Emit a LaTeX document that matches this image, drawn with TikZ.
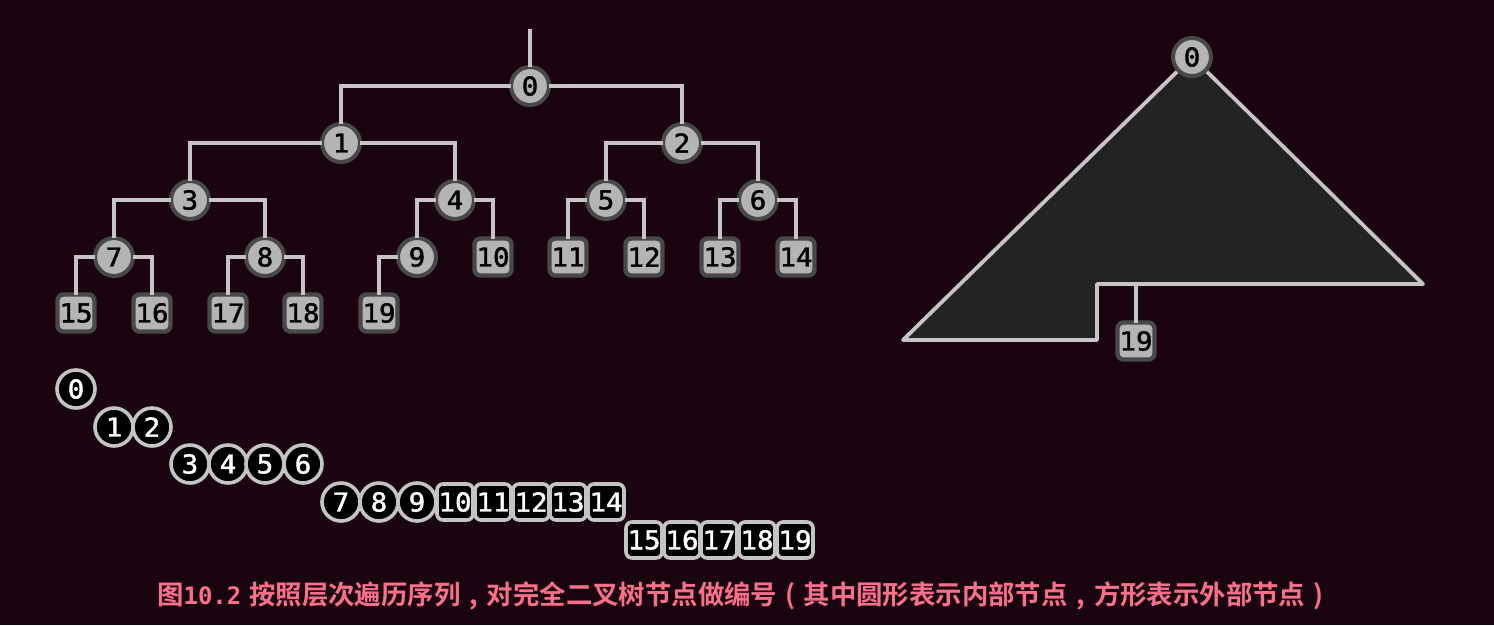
\documentclass[tikz,border=0pt]{standalone}
\usepackage{fontspec}
\newfontfamily\numf{DejaVu Sans Mono}[FakeBold=1.6,FakeStretch=1.06]
\newfontfamily\capcjk{Noto Sans CJK SC}[BoldFont={* Bold}]
\newfontfamily\capmono{DejaVu Sans Mono}[BoldFont={* Bold}]
\definecolor{bgc}{HTML}{1A0410}
\definecolor{edgec}{HTML}{C8C3C6}
\definecolor{capc}{HTML}{F9708A}
\definecolor{ringd}{HTML}{484848}
\definecolor{fillg}{HTML}{B4B4B4}
\definecolor{ringl}{HTML}{C4C4C4}
\definecolor{trifill}{HTML}{232323}
\tikzset{
  x=1pt,y=-1pt,
  numfont/.style={font=\numf\fontsize{26}{26}\selectfont,inner sep=0pt,outer sep=0pt},
  inttree/.style={numfont,circle,minimum size=38pt,draw=ringd,line width=4pt,fill=fillg,text=black},
  exttree/.style={numfont,rectangle,rounded corners=6pt,minimum size=37pt,draw=ringd,line width=4.4pt,fill=fillg,text=black},
  intseq/.style={numfont,circle,minimum size=38pt,draw=ringl,line width=3.6pt,fill=black,text=white},
  extseq/.style={numfont,rectangle,rounded corners=6pt,minimum size=36pt,draw=ringl,line width=3.6pt,fill=black,text=white},
  link/.style={draw=edgec,line width=3.8pt},
  tri/.style={draw=edgec,line width=3.8pt,fill=trifill,line join=round},
  caption/.style={font=\capcjk\bfseries\fontsize{26.4}{26.4}\selectfont,text=capc,inner sep=0pt},
}
\newcommand{\cmm}{\hbox to 1em{\hss,\hss}}
\newcommand{\lpr}{\hbox to 1em{\hss(\hss}}
\newcommand{\rpr}{\hbox to 1em{\hss)\hss}}
\begin{document}
\begin{tikzpicture}
\fill[bgc] (0,0) rectangle (1494,625);
\useasboundingbox (0,0) rectangle (1494,625);
% tree
\coordinate (root) at (530,29);
\node[inttree] (t0) at (530,86) {0};
\node[inttree] (t1) at (341,143) {1};
\node[inttree] (t2) at (682,143) {2};
\node[inttree] (t3) at (190,200) {3};
\node[inttree] (t4) at (455,200) {4};
\node[inttree] (t5) at (606,200) {5};
\node[inttree] (t6) at (758,200) {6};
\node[inttree] (t7) at (114,257) {7};
\node[inttree] (t8) at (265,257) {8};
\node[inttree] (t9) at (417,257) {9};
\node[exttree] (t10) at (493,257) {10};
\node[exttree] (t11) at (568,257) {11};
\node[exttree] (t12) at (644,257) {12};
\node[exttree] (t13) at (720,257) {13};
\node[exttree] (t14) at (796,257) {14};
\node[exttree] (t15) at (76,313) {15};
\node[exttree] (t16) at (152,313) {16};
\node[exttree] (t17) at (228,313) {17};
\node[exttree] (t18) at (303,313) {18};
\node[exttree] (t19) at (379,313) {19};
\draw[link] (root) -- (t0);
\foreach \p/\c in {0/1,0/2,1/3,1/4,2/5,2/6,3/7,3/8,4/9,4/10,5/11,5/12,6/13,6/14,7/15,7/16,8/17,8/18,9/19}
  \draw[link] (t\p) -| (t\c);
% sequence
\node[intseq] (s0) at (76,389) {0};
\node[intseq] (s1) at (114,427) {1};
\node[intseq] (s2) at (152,427) {2};
\node[intseq] (s3) at (190,464) {3};
\node[intseq] (s4) at (228,464) {4};
\node[intseq] (s5) at (265,464) {5};
\node[intseq] (s6) at (303,464) {6};
\node[intseq] (s7) at (341,502) {7};
\node[intseq] (s8) at (379,502) {8};
\node[intseq] (s9) at (417,502) {9};
\node[extseq] (s10) at (455,502) {10};
\node[extseq] (s11) at (493,502) {11};
\node[extseq] (s12) at (531,502) {12};
\node[extseq] (s13) at (568,502) {13};
\node[extseq] (s14) at (606,502) {14};
\node[extseq] (s15) at (644,540) {15};
\node[extseq] (s16) at (682,540) {16};
\node[extseq] (s17) at (719,540) {17};
\node[extseq] (s18) at (757,540) {18};
\node[extseq] (s19) at (795,540) {19};
% right-hand figure
\coordinate (apex) at (1192,57);
\coordinate (tl) at (903,340);
\coordinate (tm) at (1097,340);
\coordinate (tn) at (1097,284);
\coordinate (tr) at (1423,284);
\coordinate (tap) at (1136,284);
\path[tri] (apex) -- (tr) -- (tn) -- (tm) -- (tl) -- cycle;
\node[inttree] (r0) at (apex) {0};
\node[exttree] (r19) at (1136,341) {19};
\draw[link] (tap) -- (r19);
% caption
\node[caption,anchor=west] (cap) at (157,596) {图{\capmono\fontsize{24}{24}\selectfont\bfseries 10.2}\hspace{2pt} 按照层次遍历序列\cmm 对完全二叉树节点做编号\lpr 其中圆形表示内部节点\cmm 方形表示外部节点\rpr};
\end{tikzpicture}
\end{document}
